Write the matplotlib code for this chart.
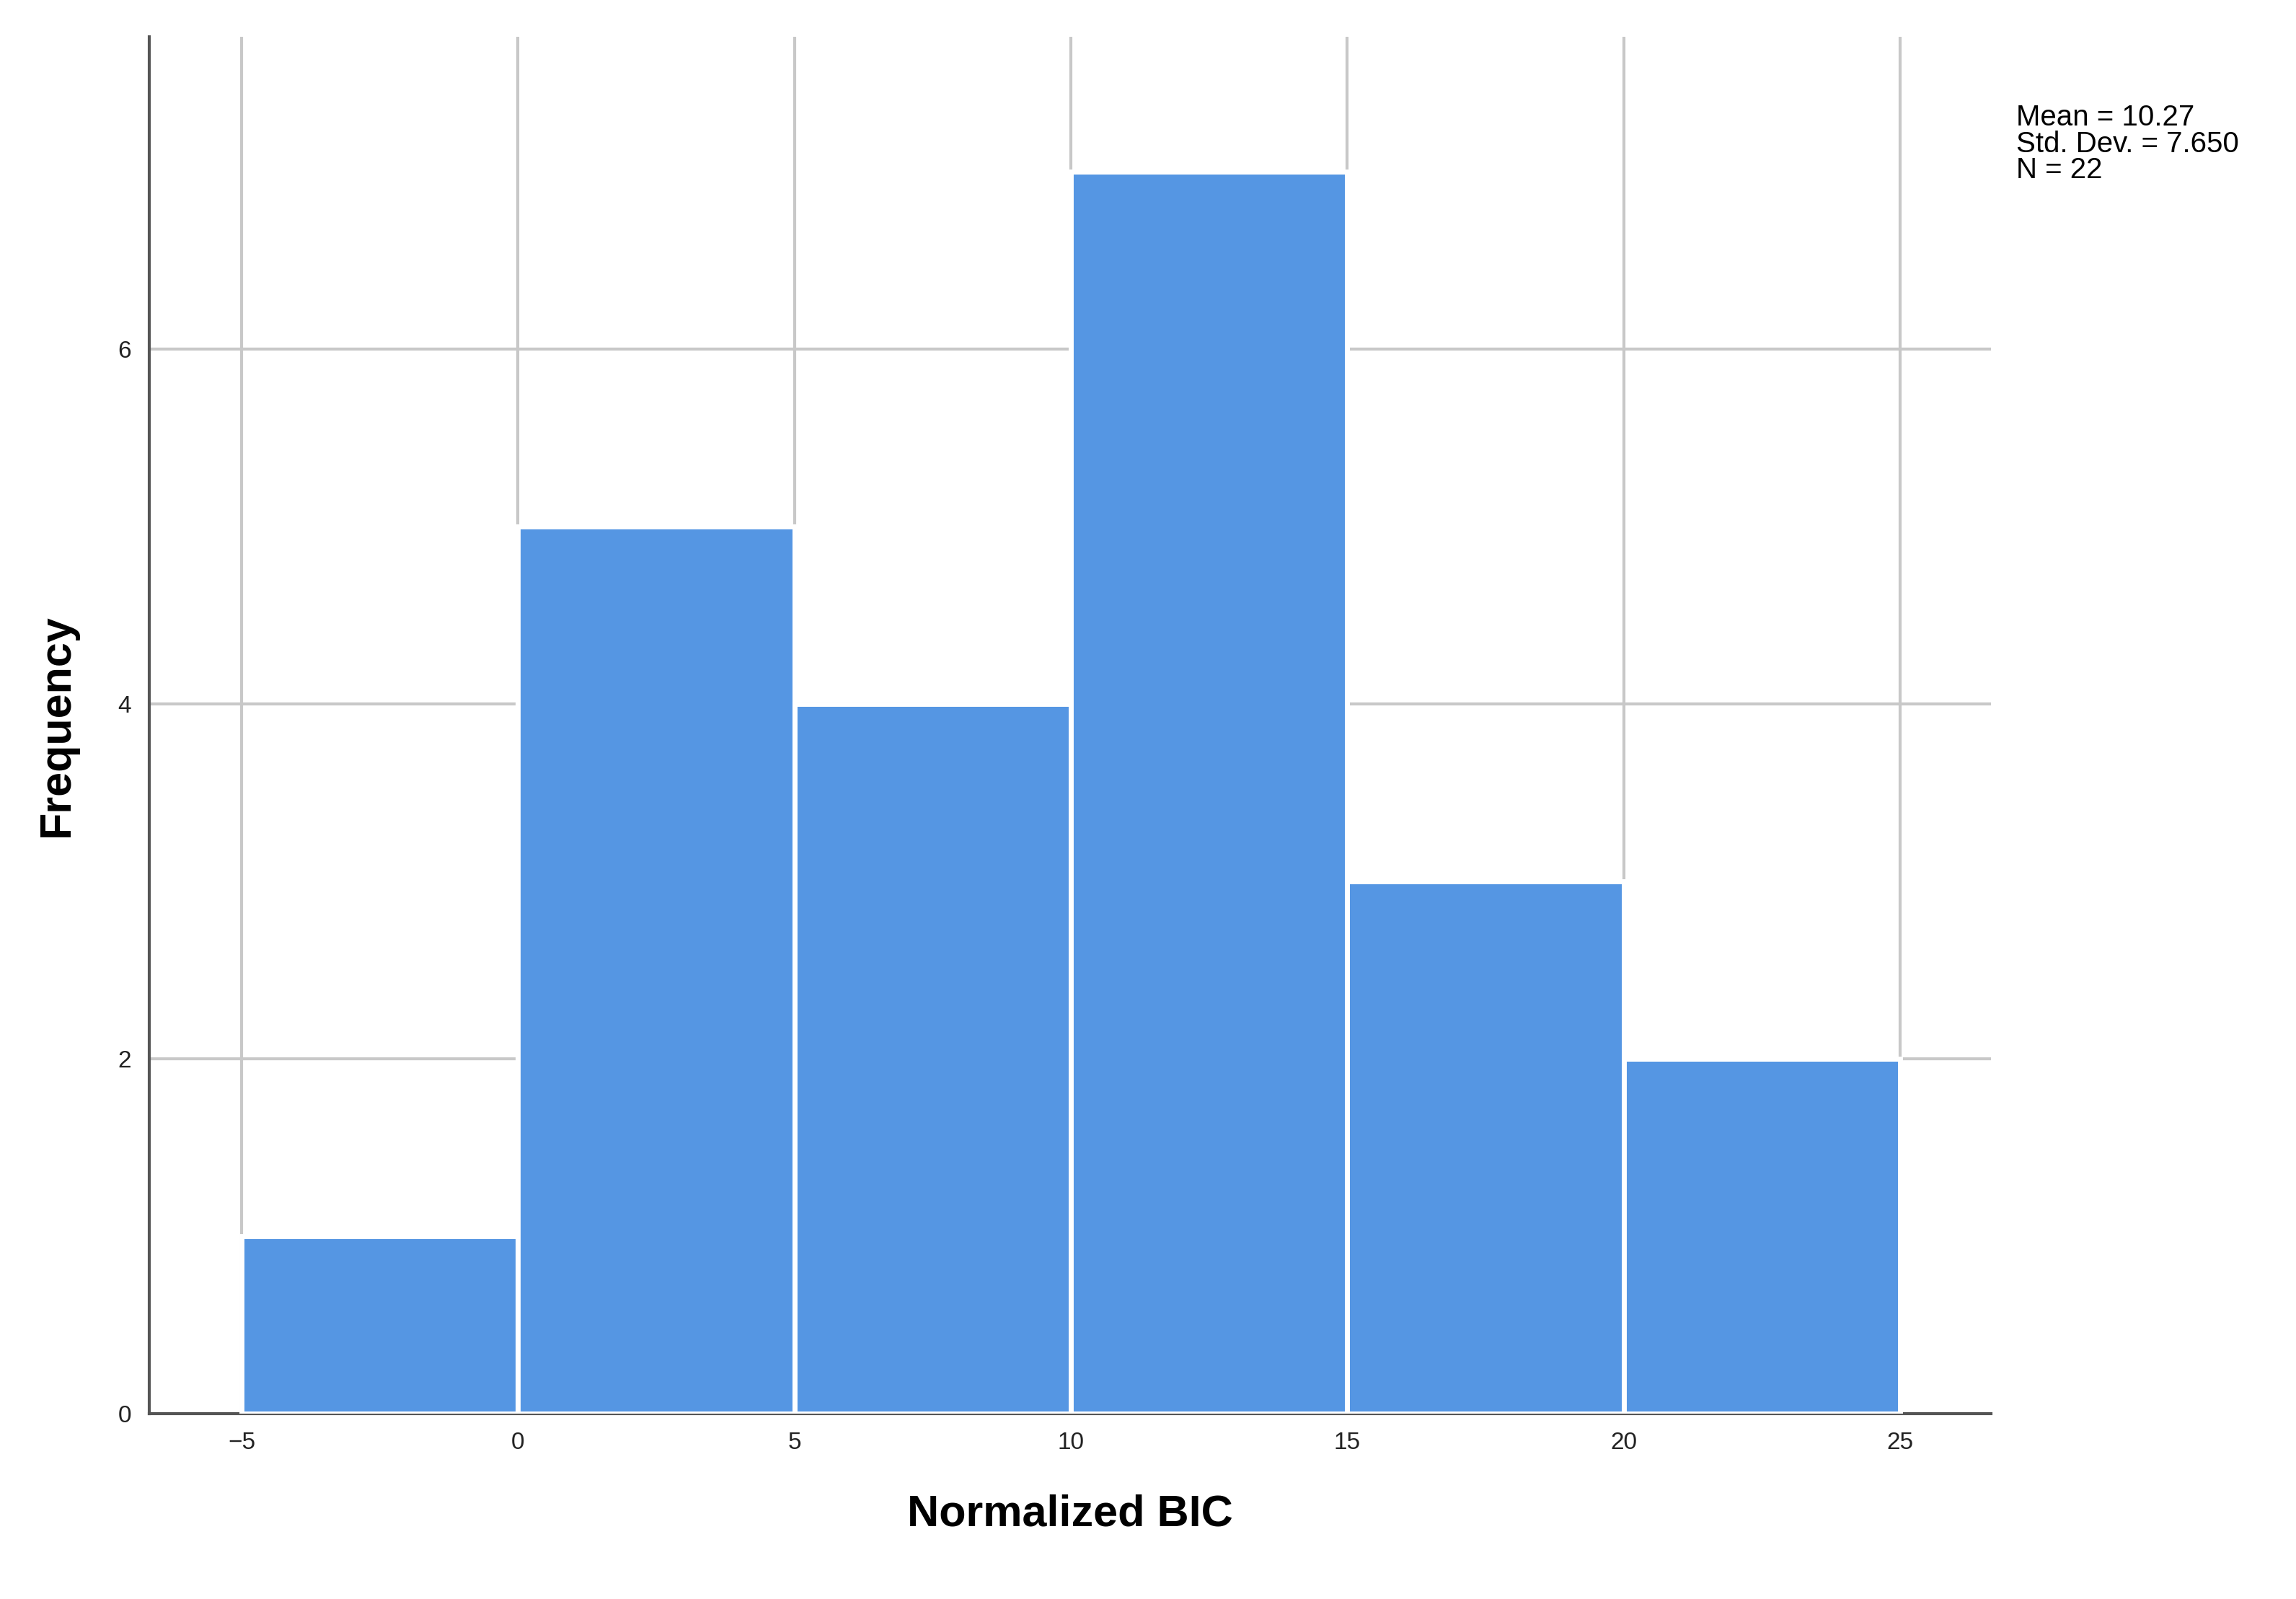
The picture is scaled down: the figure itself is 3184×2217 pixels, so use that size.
import matplotlib
matplotlib.use("Agg")
import matplotlib.pyplot as plt

bin_edges = [-5, 0, 5, 10, 15, 20, 25]
counts = [1, 5, 4, 7, 3, 2]
xticks = [-5, 0, 5, 10, 15, 20, 25]
yticks = [0, 2, 4, 6]
stats_text = "Mean = 10.27\nStd. Dev. = 7.650\nN = 22"

plt.rcParams['font.family'] = ['Liberation Sans', 'DejaVu Sans']
fig = plt.figure(figsize=(31.84, 22.17), dpi=100)
ax = fig.add_axes([0.065, 0.116, 0.802, 0.861])

lefts = bin_edges[:-1]
widths = [b - a for a, b in zip(bin_edges[:-1], bin_edges[1:])]
ax.bar(lefts, counts, width=widths, align='edge', color='#5596E3',
       edgecolor='white', linewidth=5, zorder=3)

ax.set_xlim(-6.67, 26.64)
ax.set_ylim(0, 7.76)
ax.set_xticks(xticks)
ax.set_yticks(yticks)
ax.grid(True, color='#C8C8C8', linewidth=3, zorder=0)
ax.set_axisbelow(True)
for s in ['top', 'right']:
    ax.spines[s].set_visible(False)
for s in ['left', 'bottom']:
    ax.spines[s].set_color('#555555')
    ax.spines[s].set_linewidth(3)
ax.tick_params(labelsize=24, length=0, pad=18, colors='#222222')
ax.set_xlabel("Normalized BIC", fontsize=44, fontweight='bold', labelpad=40)
ax.set_ylabel("Frequency", fontsize=44, fontweight='bold', labelpad=40)
fig.text(0.878, 0.935, stats_text, fontsize=29, va='top', ha='left', linespacing=0.95)
fig.savefig("out.png", dpi=100)
